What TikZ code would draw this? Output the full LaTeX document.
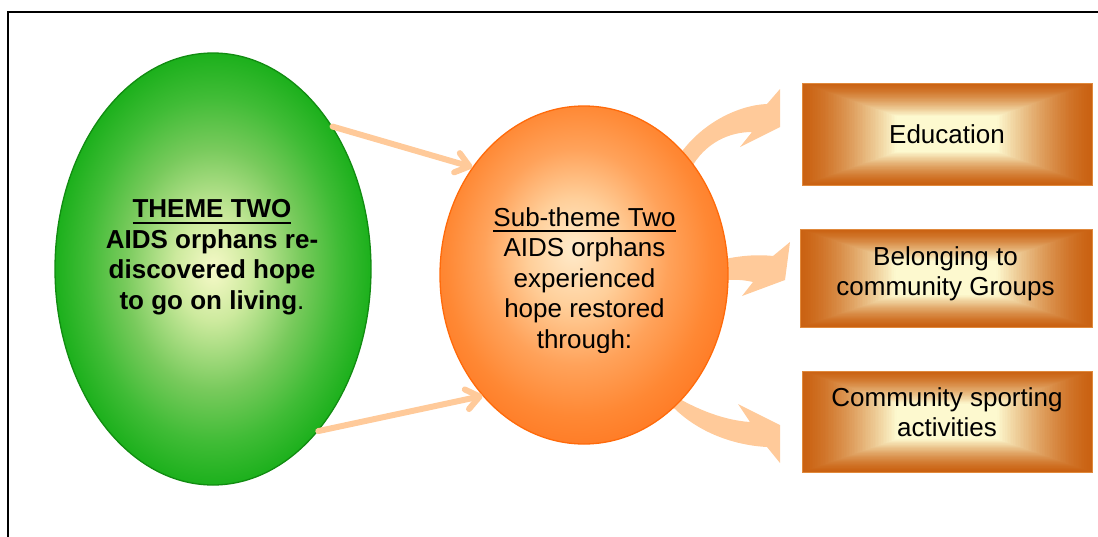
\documentclass[tikz,border=0pt]{standalone}
\usepackage{fontspec}
\setmainfont{Liberation Sans}
\usetikzlibrary{shapes.geometric,arrows.meta,calc,backgrounds}

% palette
\definecolor{gcenter}{HTML}{F6F9C8}
\definecolor{gmidA}{HTML}{CDEA9E}
\definecolor{gmidB}{HTML}{78CA5C}
\definecolor{gmidC}{HTML}{40BC36}
\definecolor{gedge}{HTML}{1CB01C}
\definecolor{greenrim}{HTML}{118C11}
\definecolor{ocenter}{HTML}{FFEBCB}
\definecolor{omidA}{HTML}{FFCF9A}
\definecolor{omidB}{HTML}{FFA25A}
\definecolor{omidC}{HTML}{FF8834}
\definecolor{oedge}{HTML}{FF7A24}
\definecolor{orangerim}{HTML}{FF6A0A}
\definecolor{boxedge}{HTML}{CA6212}
\definecolor{boxcream}{HTML}{FDF9CF}
\definecolor{boxline}{HTML}{E0893C}
\definecolor{peach}{HTML}{FFCA9A}

\pgfdeclareradialshading{greenball}{\pgfpoint{0bp}{0bp}}{%
  color(0bp)=(gcenter); color(6bp)=(gmidA); color(14bp)=(gmidB);
  color(20bp)=(gmidC); color(25bp)=(gedge); color(50bp)=(gedge)}
\pgfdeclareradialshading{orangeball}{\pgfpoint{-2bp}{4bp}}{%
  color(0bp)=(ocenter); color(8bp)=(omidA); color(16bp)=(omidB);
  color(23bp)=(omidC); color(28bp)=(oedge); color(50bp)=(oedge)}

% text with a rule drawn under it: thickness, drop of the rule's bottom, text
\newcommand\ulbar[3]{\setbox0\hbox{#3}\leavevmode\rlap{\rule[-#2]{\wd0}{#1}}\box0}

\begin{document}
\begin{tikzpicture}[x=1pt,y=-1pt,
  greenoval/.style={ellipse, shade, shading=greenball, draw=greenrim,
    line width=1.3pt, minimum width=316pt, minimum height=432pt, inner sep=0pt},
  orangeoval/.style={ellipse, shade, shading=orangeball, draw=orangerim,
    line width=1.3pt, minimum width=288pt, minimum height=338pt, inner sep=0pt},
  themetext/.style={font=\fontsize{26}{30.4}\selectfont\bfseries, align=center, inner sep=0pt},
  subtext/.style={font=\fontsize{26}{30.4}\selectfont, align=center, inner sep=0pt},
  boxtext/.style={font=\fontsize{26}{30.2}\selectfont, align=center, inner sep=0pt},
  itembox/.style={rectangle, fill=boxedge, draw=boxline, line width=0.8pt,
    inner sep=0pt, minimum width=290pt,
    path picture={
      \foreach \k in {0,...,89}{
        \pgfmathsetmacro\t{\k/90}
        \pgfmathsetmacro\u{min(\t/0.65,1)}
        \pgfmathsetmacro\p{100*\u^1.4}
        \fill[boxcream!\p!boxedge]
          ($(path picture bounding box.south west)!\t/2!(path picture bounding box.north east)$)
          rectangle
          ($(path picture bounding box.north east)!\t/2!(path picture bounding box.south west)$);
      }
    }},
  conn/.style={draw=peach, line width=6pt, line cap=round,
    -{Straight Barb[length=13pt, width=20pt, round]}},
  bentarrow/.style={fill=peach, draw=none}
]
\useasboundingbox (0,0) rectangle (1098,536);
\clip (0,0) rectangle (1098,536);

% outer frame
\draw[line width=2pt] (8,11.7) rectangle (1140,580);

% the two ovals
\node[greenoval] (theme) at (213,269) {};
\node[orangeoval] (sub) at (584,275) {};

% outcome boxes
\node[itembox, minimum height=102pt] (edu) at (947,134) {};
\node[itembox, minimum height=98pt, minimum width=292pt] (grp) at (946,278) {};
\node[itembox, minimum height=101pt] (sport) at (947,421.5) {};

% curved block arrows leaving the orange oval (tails tucked behind it)
\begin{pgfonlayer}{background}
  \fill[bentarrow] (676,160) .. controls (700,122) and (740,105) .. (767,104)
    -- (780,89) -- (780,127) -- (740,147) -- (752,132)
    .. controls (730,132) and (705,142) .. (690,170) -- cycle;
  \fill[bentarrow] (712,262) .. controls (735,256) and (755,254) .. (773,256)
    -- (790,242) -- (785,280) -- (742,296) -- (753,282)
    .. controls (740,279) and (728,279) .. (712,282) -- cycle;
  \fill[bentarrow] (668,392) .. controls (690,406) and (720,420) .. (750,422)
    -- (738,404) -- (780,425) -- (780,463) -- (767,447)
    .. controls (730,445) and (695,430) .. (672,406) -- cycle;
\end{pgfonlayer}

% straight connectors between the ovals
\draw[conn] (theme.50.7) -- (sub.136.6);
\draw[conn] (theme.-57.9) -- (sub.230.1);

% oval texts
\node[themetext, anchor=north] (themeTxt) at (212,199.5)
  {\ulbar{2.6pt}{6.5pt}{THEME TWO}\\AIDS orphans re-\\discovered hope\\to go on living\textmd{.}};
\begin{scope}
  \clip (430,100) rectangle (740,352);
  \node[subtext, anchor=north] (subTxt) at (584.5,207.4)
    {\ulbar{1.7pt}{5.2pt}{Sub-theme Two}\\AIDS orphans\\experienced\\hope restored\\through:};
\end{scope}

% box texts
\node[boxtext, anchor=base] (eduTxt) at (947,143.3) {Education};
\node[boxtext, anchor=north] (grpTxt) at (945.5,246.4) {Belonging to\\community Groups};
\node[boxtext, anchor=north] (sportTxt) at (947,387.4) {Community sporting\\activities};
\end{tikzpicture}
\end{document}
